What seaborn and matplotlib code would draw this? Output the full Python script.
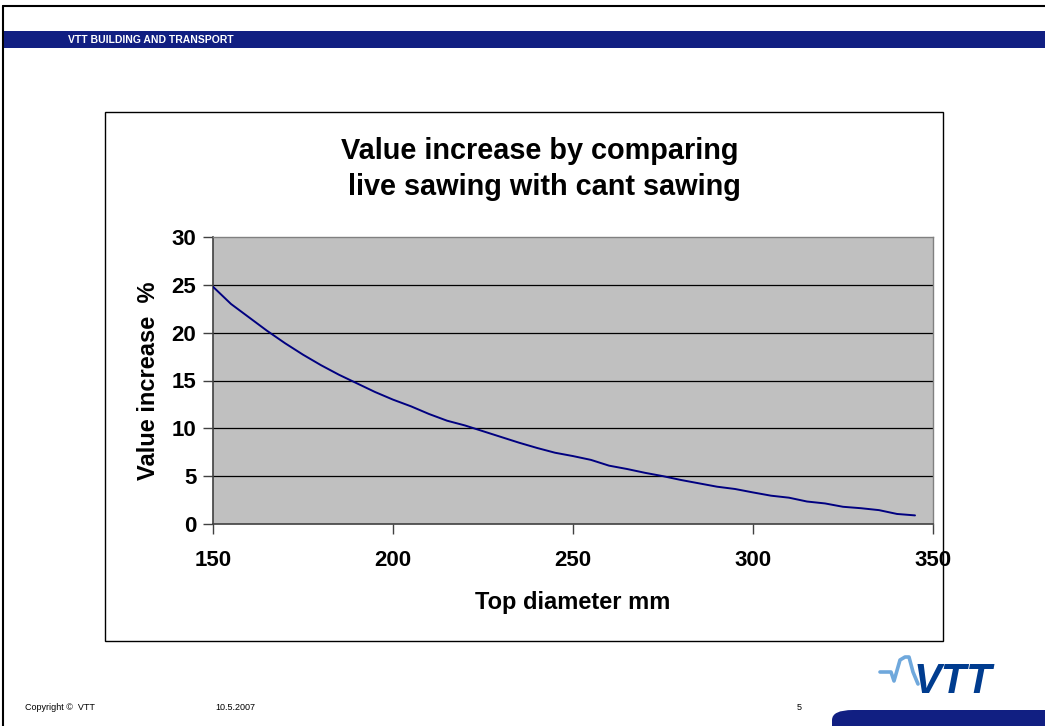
import numpy as np
import pandas as pd
import matplotlib
matplotlib.use("Agg")
import matplotlib.pyplot as plt
from matplotlib.patches import Rectangle, FancyBboxPatch
import seaborn as sns

# ---- data ----
diameter_mm = [150, 155, 160, 165, 170, 175, 180, 185, 190, 195,
               200, 205, 210, 215, 220, 225, 230, 235, 240, 245,
               250, 255, 260, 265, 270, 275, 280, 285, 290, 295,
               300, 305, 310, 315, 320, 325, 330, 335, 340, 345]
value_increase = [24.8, 23.0, 21.6, 20.2, 18.9, 17.7, 16.6, 15.6, 14.7, 13.8,
                  13.0, 12.3, 11.5, 10.8, 10.3, 9.7, 9.1, 8.5, 7.95, 7.45,
                  7.1, 6.7, 6.1, 5.75, 5.35, 5.0, 4.6, 4.25, 3.9, 3.66,
                  3.3, 2.96, 2.75, 2.35, 2.15, 1.8, 1.65, 1.45, 1.05, 0.9]
x_ticks = [150, 200, 250, 300, 350]
y_ticks = [0, 5, 10, 15, 20, 25, 30]

title_text = "Value increase by comparing\n live sawing with cant sawing"
x_label = "Top diameter mm"
y_label = "Value increase  %"
header_text = "VTT BUILDING AND TRANSPORT"
footer_left = "Copyright \u00a9  VTT"
footer_date = "10.5.2007"
footer_page = "5"

df = pd.DataFrame({"diameter": diameter_mm, "value": value_increase})

sns.set_theme(style="white")
plt.rcParams['font.family'] = ['Liberation Sans', 'DejaVu Sans']
plt.rcParams['text.color'] = 'black'
plt.rcParams['axes.labelcolor'] = 'black'
plt.rcParams['xtick.color'] = 'black'
plt.rcParams['ytick.color'] = 'black'

W, H = 1045, 726
fig = plt.figure(figsize=(W / 100, H / 100), dpi=100)
fig.patch.set_facecolor("white")

def px(x, y):
    return x / W, 1 - y / H

# page frame
fig.add_artist(plt.Line2D([3 / W, 3 / W], [0, 1 - 6 / H], color="black", lw=1.5,
                          transform=fig.transFigure, zorder=-5))
fig.add_artist(plt.Line2D([3 / W, 1], [1 - 6 / H, 1 - 6 / H], color="black", lw=1.5,
                          transform=fig.transFigure, zorder=-5))

# header bar
fig.add_artist(Rectangle(px(4, 48), (W - 4) / W, 17 / H, transform=fig.transFigure,
                         facecolor="#111f82", edgecolor="none", zorder=-5))
fig.text(68 / W, 1 - 40 / H, header_text, color="white", fontsize=7.5, fontweight="bold",
         va="center", ha="left")

# chart box
fig.add_artist(Rectangle(px(105, 641), (943 - 105) / W, (641 - 112) / H, transform=fig.transFigure,
                         facecolor="white", edgecolor="black", lw=1.0, zorder=-5))

# axes
ax = fig.add_axes([213 / W, 1 - 524 / H, 720 / W, 287 / H], zorder=2)
ax.set_facecolor("#c0c0c0")
sns.lineplot(data=df, x="diameter", y="value", ax=ax, color="#000080", lw=1.4, zorder=3)
ax.set_xlim(150, 350)
ax.set_ylim(0, 30)
ax.set_xticks(x_ticks)
ax.set_yticks(y_ticks)
for yv in y_ticks[1:-1]:
    ax.axhline(yv, color="black", lw=0.9, zorder=1)
for s in ["top", "right"]:
    ax.spines[s].set_color("#808080")
    ax.spines[s].set_linewidth(1.0)
for s in ["left", "bottom"]:
    ax.spines[s].set_color("#404040")
    ax.spines[s].set_linewidth(1.2)
ax.tick_params(axis="both", direction="out", length=7, width=1, color="#404040",
               labelsize=16, labelcolor="black", bottom=True, left=True)
ax.tick_params(axis="x", pad=12)
ax.tick_params(axis="y", pad=5)
for lbl in ax.get_xticklabels() + ax.get_yticklabels():
    lbl.set_fontweight("bold")
ax.set_xlabel(x_label, fontsize=17, fontweight="bold", labelpad=14, color="black")
ax.set_ylabel(y_label, fontsize=17, fontweight="bold", labelpad=8, color="black")

fig.text(540 / W, 1 - 169 / H, title_text, ha="center", va="center", fontsize=20.8,
         fontweight="bold", linespacing=1.35, color="black")

# footer
fig.text(25 / W, 1 - 708 / H, footer_left, fontsize=6.5, va="center")
fig.text(215 / W, 1 - 708 / H, footer_date, fontsize=6.5, va="center")
fig.text(797 / W, 1 - 708 / H, footer_page, fontsize=6.5, va="center")

# VTT logo
logo = fig.text(953 / W, 1 - 682 / H, "VTT", fontsize=30, fontweight="bold", style="italic",
                color="#003c8f", ha="center", va="center")
pulse_x = [880, 891, 894, 900, 905, 909, 913, 918]
pulse_y = [672, 672, 681, 660, 657, 657, 672, 684]
fig.add_artist(plt.Line2D([v / W for v in pulse_x], [1 - v / H for v in pulse_y],
                          color="#6fa8dc", lw=2.6, transform=fig.transFigure))
fig.add_artist(FancyBboxPatch(px(832, 740), 240 / W, 30 / H,
                              boxstyle="round,pad=0,rounding_size=0.02",
                              transform=fig.transFigure, facecolor="#111f82",
                              edgecolor="none", mutation_aspect=H / W))

fig.savefig("out.png", dpi=100)
